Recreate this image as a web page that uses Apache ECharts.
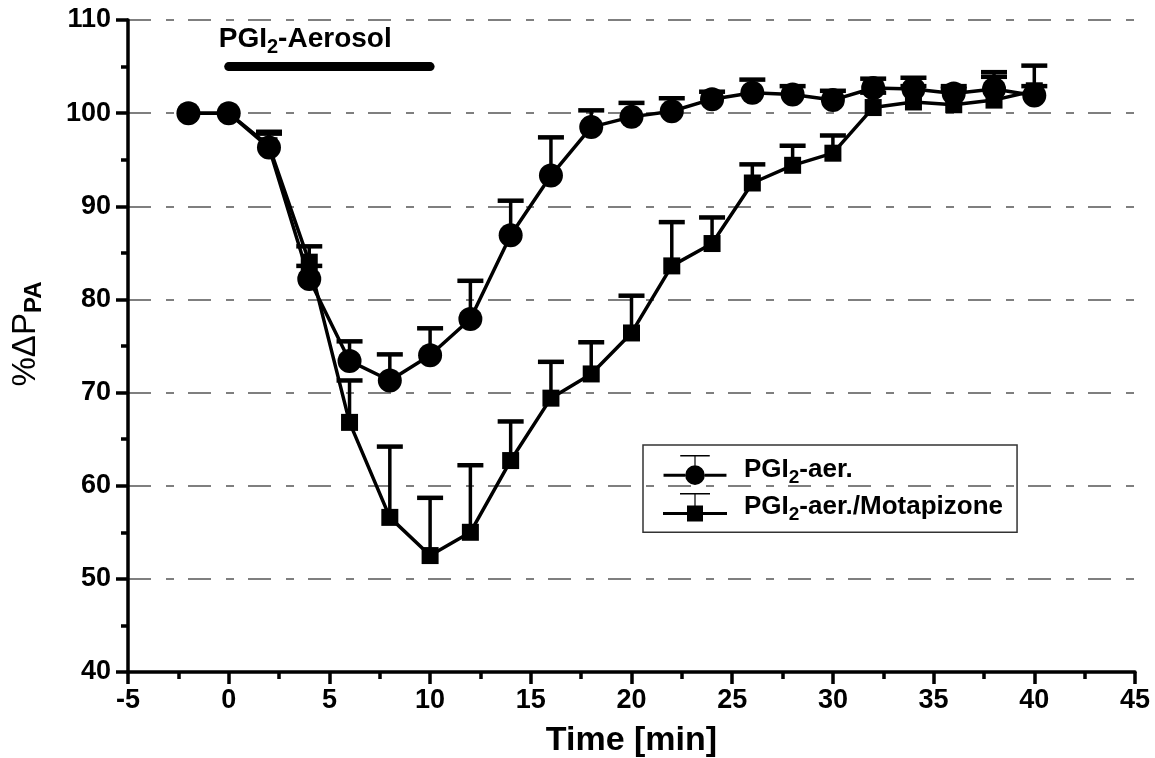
<!DOCTYPE html>
<html>
<head>
<meta charset="utf-8">
<style>
    html, body { margin: 0; padding: 0; background: #fff; }
    #chart { width: 1155px; height: 758px; }
</style>
<script src="https://cdn.jsdelivr.net/npm/echarts@6/dist/echarts.min.js"></script>
</head>
<body>
<div id="chart"></div>
<script>
// 数据 - 时间 (min)
let time        = [-2, 0, 2, 4, 6, 8, 10, 12, 14, 16, 18, 20, 22, 24, 26, 28, 30, 32, 34, 36, 38, 40];
// PGI2-aer. 平均值 / 误差上限
let aerMean     = [100, 100, 96.3, 82.2, 73.4, 71.3, 74.0, 77.9, 86.9, 93.3, 98.5, 99.6, 100.2, 101.5, 102.2, 102.0, 101.4, 102.7, 102.6, 102.1, 102.6, 101.9];
let aerUpper    = [100, 100, 97.8, 83.6, 75.5, 74.1, 76.9, 82.0, 90.6, 97.4, 100.3, 101.1, 101.6, 102.3, 103.6, 102.9, 102.4, 103.7, 103.8, 102.9, 104.4, 105.1];
// PGI2-aer./Motapizone 平均值 / 误差上限
let motMean     = [100, 100, 96.5, 84.0, 66.8, 56.6, 52.5, 55.0, 62.7, 69.4, 72.0, 76.4, 83.6, 86.0, 92.5, 94.4, 95.7, 100.6, 101.2, 100.9, 101.4, 102.4];
let motUpper    = [100, 100, 98.0, 85.7, 71.3, 64.2, 58.7, 62.2, 66.9, 73.3, 75.4, 80.4, 88.3, 88.8, 94.5, 96.5, 97.6, 102.2, 102.9, 102.6, 103.9, 102.9];
// 刻度
let xTicks      = { min: -5, max: 45, step: 5 };
let yTicks      = { min: 40, max: 110, step: 10 };
// 气溶胶给药时段
let aerosolSpan  = [0, 10];
let aerosolLevel = 105;

let seriesNames = ['PGI2-aer.', 'PGI2-aer./Motapizone'];

const FONT = '"Liberation Sans", Arial, sans-serif';

// 组合 [x, y]
function pairs(xs, ys) {
    return xs.map((x, i) => [x, ys[i]]);
}
// 组合 [x, 下限, 上限]
function errTriples(xs, lo, hi) {
    return xs.map((x, i) => [x, lo[i], hi[i]]);
}

// 误差线 (只画上半部分)
function renderErr(params, api) {
    let x = api.value(0), lo = api.value(1), hi = api.value(2);
    if (!(hi > lo)) return null;
    let p0 = api.coord([x, lo]);
    let p1 = api.coord([x, hi]);
    let w = 13;
    return {
        type: 'group',
        children: [
            { type: 'line', shape: { x1: p0[0], y1: p0[1], x2: p1[0], y2: p1[1] }, style: { stroke: '#000', lineWidth: 3.5 } },
            { type: 'line', shape: { x1: p1[0] - w, y1: p1[1], x2: p1[0] + w, y2: p1[1] }, style: { stroke: '#000', lineWidth: 4.5 } }
        ]
    };
}

// 图例图标 - 线 + 符号 + 误差帽
let iconCircle = 'path://M0,23.5L22,23.5L22,26.5L0,26.5Z' +
    'M42,23.5L64,23.5L64,26.5L42,26.5Z' +
    'M22,25A10,10 0 1,1 42,25A10,10 0 1,1 22,25Z' +
    'M31.4,6L32.6,6L32.6,15L31.4,15Z' +
    'M17,4.5L47,4.5L47,6L17,6Z';
let iconSquare = 'path://M0,23.5L24,23.5L24,26.5L0,26.5Z' +
    'M40,23.5L64,23.5L64,26.5L40,26.5Z' +
    'M24,17L40,17L40,33L24,33Z' +
    'M31.4,6L32.6,6L32.6,17L31.4,17Z' +
    'M17,4.5L47,4.5L47,6L17,6Z';

// 粗体 + 下标 的 rich 样式
function subRich(size, subSize, lh) {
    return {
        b: { fontFamily: FONT, fontWeight: 'bold', fontSize: size, color: '#000', lineHeight: lh, verticalAlign: 'middle' },
        p: { fontFamily: FONT, fontWeight: 'bold', fontSize: size, color: '#000', lineHeight: lh, verticalAlign: 'middle', padding: [0, 0, 0, 12] },
        s: { fontFamily: FONT, fontWeight: 'bold', fontSize: subSize, color: '#000', lineHeight: lh, verticalAlign: 'bottom' }
    };
}

let chart = echarts.init(document.getElementById('chart'));

let option = {
    backgroundColor: '#fff',
    animation: false,
    grid: { left: 128, right: 20, top: 20, bottom: 86, containLabel: false, outerBoundsMode: 'none' },
    legend: {
        orient: 'vertical',
        left: 643,
        top: 445,
        padding: [10, 14, 8, 20],
        itemGap: 6,
        itemWidth: 64,
        itemHeight: 30,
        borderColor: '#333',
        borderWidth: 1.5,
        data: [
            { name: seriesNames[0], icon: iconCircle },
            { name: seriesNames[1], icon: iconSquare }
        ],
        formatter: name => '{p|PGI}{s|2}{b|' + name.slice(4) + '}',
        textStyle: { rich: subRich(26, 19, 34) }
    },
    xAxis: {
        type: 'value',
        min: xTicks.min,
        max: xTicks.max,
        interval: xTicks.step,
        name: 'Time [min]',
        nameLocation: 'middle',
        nameGap: 52,
        nameTextStyle: { fontFamily: FONT, fontWeight: 'bold', fontSize: 34, color: '#000' },
        axisLine: { onZero: false, lineStyle: { color: '#000', width: 3.5 } },
        axisTick: { length: 12, lineStyle: { color: '#000', width: 3.5 } },
        minorTick: { show: true, splitNumber: 2, length: 7, lineStyle: { color: '#000', width: 3.5 } },
        axisLabel: { fontFamily: FONT, fontWeight: 'bold', fontSize: 27, color: '#000', margin: 15 },
        splitLine: { show: false }
    },
    yAxis: {
        type: 'value',
        min: yTicks.min,
        max: yTicks.max,
        interval: yTicks.step,
        name: '{n|%\u0394P}{s|PA}',
        nameLocation: 'middle',
        nameRotate: 90,
        nameGap: 82,
        nameTextStyle: {
            rich: {
                n: { fontFamily: FONT, fontSize: 33, color: '#000', lineHeight: 40, verticalAlign: 'middle', padding: [0, 0, 0, 24] },
                s: { fontFamily: FONT, fontWeight: 'bold', fontSize: 24, color: '#000', lineHeight: 40, verticalAlign: 'bottom' }
            }
        },
        axisLine: { onZero: false, lineStyle: { color: '#000', width: 3.5 } },
        axisTick: { length: 12, lineStyle: { color: '#000', width: 3.5 } },
        minorTick: { show: true, splitNumber: 2, length: 7, lineStyle: { color: '#000', width: 3.5 } },
        axisLabel: { fontFamily: FONT, fontWeight: 'bold', fontSize: 27, color: '#000', margin: 17 },
        splitLine: { show: true, lineStyle: { color: '#555', width: 1.5, type: [23, 15, 8, 14] } }
    },
    series: [
        // 误差线
        {
            type: 'custom',
            silent: true,
            renderItem: renderErr,
            data: errTriples(time, motMean, motUpper),
            z: 3
        },
        {
            type: 'custom',
            silent: true,
            renderItem: renderErr,
            data: errTriples(time, aerMean, aerUpper),
            z: 3
        },
        // 曲线
        {
            name: seriesNames[1],
            type: 'line',
            data: pairs(time, motMean),
            symbol: 'rect',
            symbolSize: 17,
            color: '#000',
            lineStyle: { color: '#000', width: 3.5 },
            itemStyle: { color: '#000' },
            z: 4
        },
        {
            name: seriesNames[0],
            type: 'line',
            data: pairs(time, aerMean),
            symbol: 'circle',
            symbolSize: 24,
            color: '#000',
            lineStyle: { color: '#000', width: 3.5 },
            itemStyle: { color: '#000' },
            z: 5
        },
        // 给药时段横条
        {
            type: 'line',
            silent: true,
            data: aerosolSpan.map(x => [x, aerosolLevel]),
            symbol: 'none',
            lineStyle: { color: '#000', width: 9, cap: 'round' },
            z: 5
        },
        // 标注文字
        {
            type: 'scatter',
            silent: true,
            symbolSize: 0,
            itemStyle: { color: '#000', opacity: 1 },
            data: [[3.8, 106.0]],
            label: {
                show: true,
                position: 'top',
                distance: 0,
                color: '#000',
                opacity: 1,
                textBorderWidth: 0,
                formatter: '{b|PGI}{s|2}{b|-Aerosol}',
                rich: subRich(28, 20, 36)
            }
        }
    ]
};

chart.setOption(option);
</script>
</body>
</html>
